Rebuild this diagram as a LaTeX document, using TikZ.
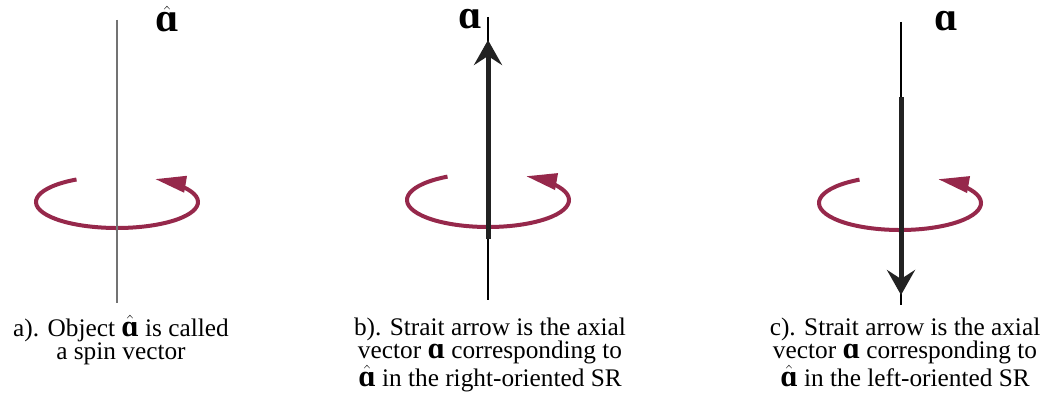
\documentclass[tikz,border=0pt]{standalone}
\usepackage{fontspec}
\setmainfont{Liberation Serif}
\usetikzlibrary{arrows.meta,calc}
\definecolor{spin}{RGB}{150,40,75}
\definecolor{shaftcol}{RGB}{34,34,34}
\definecolor{axisgray}{RGB}{115,115,115}
\newcommand{\alp}{{\bfseries\scalebox{1.2}{ɑ}}}
\newcommand{\alphat}{\ensuremath{\hat{\mbox{\bfseries\scalebox{1.2}{ɑ}}}}}
\begin{document}
\begin{tikzpicture}[x=1pt,y=1pt,
  rot/.style={draw=spin, line width=4pt, -{Triangle[length=31pt,width=16pt]}},
  axisline/.style={line width=1.1pt},
  shaft/.style={draw=shaftcol, line width=5pt, -{Stealth[length=25pt,width=28pt,inset=9pt]}},
  lab/.style={font=\fontsize{34}{34}\selectfont, inner sep=0pt},
  captext/.style={font=\fontsize{25.3}{23}\selectfont, align=center, inner sep=0pt, anchor=north}]
\fill[white] (0,0) rectangle (1040,392);
\useasboundingbox (0,0) rectangle (1040,392);

% ---------- panel a ----------
\coordinate (ea) at (117,190);
\draw[rot] ($(ea)+(120:81 and 26)$) arc[start angle=120, end angle=422, x radius=81, y radius=26];
\coordinate (at) at (117,372);
\coordinate (ab) at (117,89);
\draw[axisline, draw=axisgray] (at) -- (ab);
\node[lab] (la) at (167,373) {\alphat};
\node[captext] (ca) at (121,77) {a). Object \alphat{} is called\\a spin vector};

% ---------- panel b ----------
\coordinate (eb) at (488,192);
\draw[rot] ($(eb)+(120:81 and 27)$) arc[start angle=120, end angle=422, x radius=81, y radius=27];
\coordinate (bt) at (488,375);
\coordinate (bb) at (488,92);
\draw[axisline] (bt) -- (bb);
\coordinate (bs) at (488,153);
\coordinate (be) at (488,352);
\draw[shaft] (bs) -- (be);
\node[lab] (lb) at (470,373) {\alp};
\node[captext] (cb) at (490,74) {b). Strait arrow is the axial\\vector \alp{} corresponding to\\\alphat{} in the right-oriented SR};

% ---------- panel c ----------
\coordinate (ec) at (900,189);
\draw[rot] ($(ec)+(120:81 and 27)$) arc[start angle=120, end angle=422, x radius=81, y radius=27];
\coordinate (ct) at (901,370);
\coordinate (cbm) at (901,87);
\draw[axisline] (ct) -- (cbm);
\coordinate (cs) at (901,295);
\coordinate (ce) at (901,97);
\draw[shaft] (cs) -- (ce);
\node[lab] (lc) at (946,371) {\alp};
\node[captext] (cc) at (905,74) {c). Strait arrow is the axial\\vector \alp{} corresponding to\\\alphat{} in the left-oriented SR};
\end{tikzpicture}
\end{document}
